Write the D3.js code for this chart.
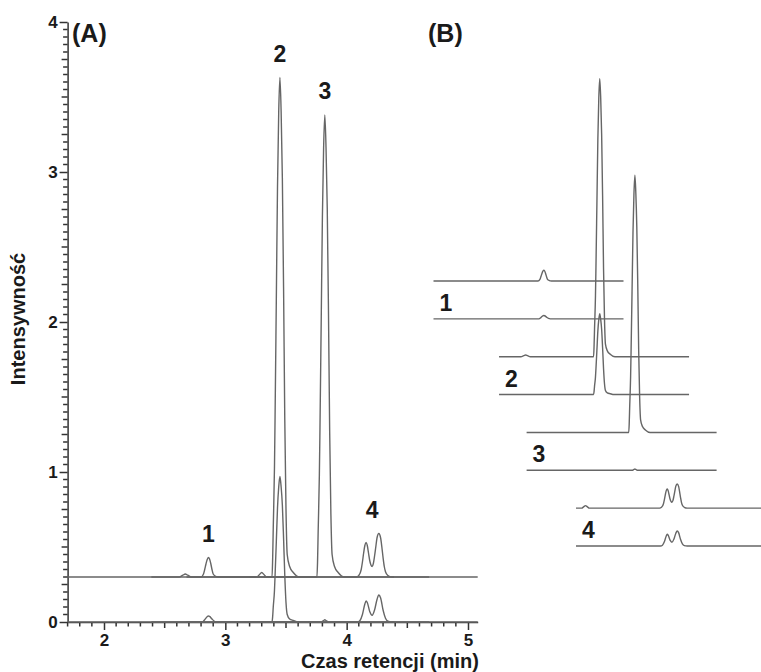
<!DOCTYPE html>
<html>
<head>
<meta charset="utf-8">
<script src="https://cdn.jsdelivr.net/npm/d3@7"></script>
<style>
  body { margin: 0; background: #fff; }
  svg text { font-family: "Liberation Sans", Arial, sans-serif; fill: #1a1a1a; }
</style>
</head>
<body>
<div id="chart"></div>
<script>
// compound numbers and the time where each number sits (min)
const peakLabels = ["1", "2", "3", "4"];
const labelTimes = [2.86, 3.45, 3.82, 4.21];
// each extracted trace covers its own time window (min)
const traceStarts = [1.70, 2.39, 2.68, 3.20];

// upper traces: [retention time (min), intensity above their baseline]
const upper1 = [[1.70, 0], [2.80, 0], [2.82, 0.02], [2.83, 0.05], [2.84, 0.085], [2.85, 0.115], [2.86, 0.13],
  [2.87, 0.12], [2.88, 0.09], [2.89, 0.05], [2.90, 0.02], [2.92, 0.005], [2.94, 0], [3.70, 0]];
const upper2 = [[2.39, 0], [2.62, 0], [2.65, 0.012], [2.67, 0.02], [2.69, 0.012], [2.72, 0], [3.385, 0],
  [3.39, 0.12], [3.395, 0.33], [3.405, 0.73], [3.41, 1.07], [3.42, 1.83], [3.43, 2.6], [3.44, 3.1], [3.45, 3.33],
  [3.46, 3.1], [3.47, 2.66], [3.48, 1.93], [3.49, 1.05], [3.50, 0.45], [3.51, 0.15], [3.53, 0.07], [3.56, 0.03],
  [3.61, 0], [4.39, 0]];
const upper3 = [[2.68, 0], [3.755, 0], [3.76, 0.1], [3.765, 0.3], [3.775, 0.68], [3.78, 0.99], [3.79, 1.69],
  [3.80, 2.4], [3.81, 2.86], [3.82, 3.08], [3.83, 2.86], [3.84, 2.46], [3.85, 1.78], [3.86, 0.97], [3.87, 0.42],
  [3.88, 0.15], [3.90, 0.07], [3.93, 0.03], [3.98, 0], [4.68, 0]];
const upper4 = [[3.20, 0], [3.26, 0], [3.28, 0.015], [3.30, 0.03], [3.32, 0.015], [3.34, 0], [4.08, 0],
  [4.10, 0.01], [4.12, 0.05], [4.13, 0.1], [4.14, 0.16], [4.15, 0.21], [4.16, 0.23], [4.17, 0.21], [4.18, 0.16],
  [4.19, 0.11], [4.20, 0.08], [4.21, 0.07], [4.22, 0.09], [4.23, 0.14], [4.24, 0.2], [4.25, 0.26], [4.265, 0.29],
  [4.28, 0.26], [4.29, 0.2], [4.30, 0.13], [4.31, 0.07], [4.32, 0.035], [4.34, 0.01], [4.37, 0], [5.20, 0]];

// lower traces
const lower1 = [[1.70, 0], [2.81, 0], [2.83, 0.015], [2.85, 0.035], [2.86, 0.04], [2.87, 0.037], [2.89, 0.02],
  [2.91, 0.005], [2.93, 0], [3.70, 0]];
const lower2 = [[2.39, 0], [3.385, 0], [3.39, 0.035], [3.395, 0.1], [3.405, 0.21], [3.41, 0.31], [3.42, 0.53],
  [3.43, 0.76], [3.44, 0.9], [3.45, 0.97], [3.46, 0.9], [3.47, 0.78], [3.48, 0.56], [3.49, 0.31], [3.50, 0.13],
  [3.51, 0.05], [3.53, 0.02], [3.56, 0.01], [3.60, 0], [4.39, 0]];
const lower3 = [[2.68, 0], [3.79, 0], [3.81, 0.01], [3.82, 0.015], [3.83, 0.01], [3.85, 0], [4.68, 0]];
const lower4 = [[3.20, 0], [4.09, 0], [4.11, 0.01], [4.13, 0.05], [4.15, 0.12], [4.16, 0.14], [4.17, 0.13],
  [4.19, 0.07], [4.21, 0.045], [4.23, 0.08], [4.25, 0.15], [4.265, 0.18], [4.28, 0.16], [4.30, 0.08],
  [4.32, 0.025], [4.34, 0.005], [4.37, 0], [5.20, 0]];

const upperTraces = [upper1, upper2, upper3, upper4];
const lowerTraces = [lower1, lower2, lower3, lower4];
const upperOffset = 0.3;   // upper set is shifted up in panel A

const xDomain = [1.7, 5.08];
const yDomain = [0, 4];
const xTicks = [2, 3, 4, 5];
const yTicks = [0, 1, 2, 3, 4];

class ChromatogramFigure {
    constructor(size) {
        this.size = size;
        this.lineColor = "#666666";
        this.axisColor = "#333333";

        this.#createSVG();
        this.#createScales();
        this.#drawAxes();
        this.#drawPanelA();
        this.#drawPanelB();
    }
    #createSVG() {
        this.svg = d3.select("#chart").append("svg")
            .attr("width", this.size.width)
            .attr("height", this.size.height);
    }
    #createScales() {
        this.xA = d3.scaleLinear().domain(xDomain).range([67.6, 477.7]);
        this.yA = d3.scaleLinear().domain(yDomain).range([622, 22]);
        // panel B: shared time scale, each trace on its own row
        this.xB = d3.scaleLinear().domain([2, 5]).range([462, 747]);
        this.rowB = d3.scaleLinear().domain([0, 7]).range([281, 546]);
        this.hB = d3.scaleLinear().domain([0, 1]).range([0, 83.5]);
    }
    #styleAxis(g) {
        g.selectAll("path, line").attr("stroke", this.axisColor).attr("stroke-width", 1.5);
        g.selectAll("text").attr("font-size", 17).attr("font-weight", "bold").attr("fill", "#1a1a1a");
    }
    #isStep(d, step) {
        return Math.abs(d / step - Math.round(d / step)) < 1e-6;
    }
    #drawAxes() {
        const minorX = d3.range(17, 51).map(d => d / 10).filter(d => !xTicks.includes(d));
        const minorY = d3.range(1, 80).map(d => d / 20).filter(d => !yTicks.includes(d));
        const y0 = this.yA(0), x0 = this.xA(xDomain[0]);

        // minor ticks
        this.svg.append("g").selectAll("line")
            .data(minorX).join("line")
            .attr("x1", d => this.xA(d)).attr("x2", d => this.xA(d))
            .attr("y1", y0).attr("y2", d => y0 + (this.#isStep(d, 0.5) ? 6 : 4.5))
            .attr("stroke", this.axisColor).attr("stroke-width", 1.5);
        this.svg.append("g").selectAll("line")
            .data(minorY).join("line")
            .attr("y1", d => this.yA(d)).attr("y2", d => this.yA(d))
            .attr("x1", x0).attr("x2", d => x0 - (this.#isStep(d, 0.25) ? 6 : 4.5))
            .attr("stroke", this.axisColor).attr("stroke-width", 1.5);

        this.svg.append("g")
            .attr("transform", `translate(0,${y0})`)
            .call(d3.axisBottom(this.xA).tickValues(xTicks).tickFormat(d3.format("d"))
                .tickSize(8).tickSizeOuter(0).tickPadding(4))
            .call(g => this.#styleAxis(g));
        this.svg.append("g")
            .attr("transform", `translate(${x0},0)`)
            .call(d3.axisLeft(this.yA).tickValues(yTicks).tickFormat(d3.format("d"))
                .tickSize(8).tickSizeOuter(0).tickPadding(2))
            .call(g => this.#styleAxis(g));

        this.svg.append("text")
            .attr("x", 390).attr("y", 668)
            .attr("text-anchor", "middle")
            .attr("font-size", 20).attr("font-weight", "bold")
            .text("Czas retencji (min)");
        this.svg.append("text")
            .attr("transform", "translate(25,319) rotate(-90)")
            .attr("text-anchor", "middle")
            .attr("font-size", 20).attr("font-weight", "bold")
            .text("Intensywność");
    }
    #drawTrace(group, points, x, y) {
        group.append("path")
            .datum(points)
            .attr("fill", "none")
            .attr("stroke", this.lineColor)
            .attr("stroke-width", 1.4)
            .attr("stroke-linejoin", "round")
            .attr("d", d3.line().curve(d3.curveMonotoneX).x(d => x(d[0])).y(d => y(d[1])));
    }
    #drawPanelA() {
        this.svg.append("clipPath").attr("id", "clipA")
            .append("rect")
            .attr("x", this.xA(xDomain[0])).attr("y", 0)
            .attr("width", this.xA(xDomain[1]) - this.xA(xDomain[0]))
            .attr("height", this.yA(0) + 1);

        let plot = this.svg.append("g").attr("clip-path", "url(#clipA)");
        lowerTraces.forEach(tr => this.#drawTrace(plot, tr, this.xA, v => this.yA(v)));
        upperTraces.forEach(tr => this.#drawTrace(plot, tr, this.xA, v => this.yA(v + upperOffset)));

        peakLabels.forEach((label, i) => {
            const top = d3.max(upperTraces[i], d => d[1]) + upperOffset;
            this.svg.append("text")
                .attr("x", this.xA(labelTimes[i]))
                .attr("y", this.yA(top) - 16)
                .attr("text-anchor", "middle")
                .attr("font-size", 23).attr("font-weight", "bold")
                .text(label);
        });

        this.svg.append("text")
            .attr("x", 72).attr("y", 42)
            .attr("font-size", 25).attr("font-weight", "bold")
            .text("(A)");
    }
    #drawPanelB() {
        let panel = this.svg.append("g");
        peakLabels.forEach((label, i) => {
            const upperRow = this.rowB(2 * i);
            const lowerRow = this.rowB(2 * i + 1);
            this.#drawTrace(panel, upperTraces[i], this.xB, v => upperRow - this.hB(v));
            this.#drawTrace(panel, lowerTraces[i], this.xB, v => lowerRow - this.hB(v));

            panel.append("text")
                .attr("x", this.xB(traceStarts[i]) + 6)
                .attr("y", lowerRow - 8)
                .attr("font-size", 23).attr("font-weight", "bold")
                .text(label);
        });

        this.svg.append("text")
            .attr("x", 428).attr("y", 42)
            .attr("font-size", 25).attr("font-weight", "bold")
            .text("(B)");
    }
}

new ChromatogramFigure({ width: 761, height: 672 });
</script>
</body>
</html>
